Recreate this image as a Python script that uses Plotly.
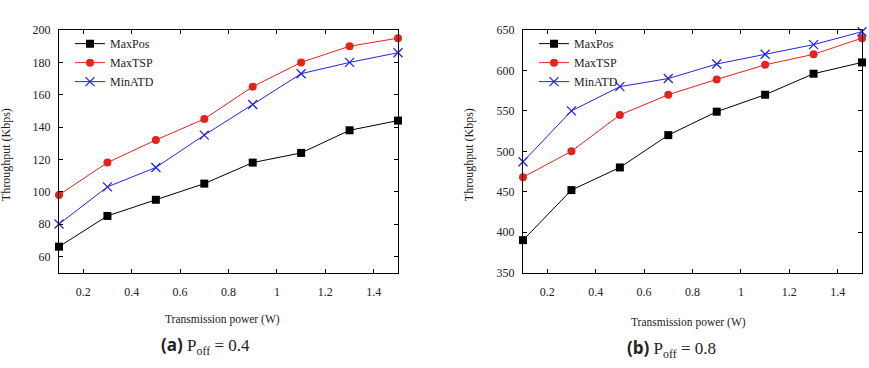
import plotly.graph_objects as go

W, H = 869, 368

power = [0.1, 0.3, 0.5, 0.7, 0.9, 1.1, 1.3, 1.5]
x_tickvals = [0.2, 0.4, 0.6, 0.8, 1.0, 1.2, 1.4]
x_ticktext = ["0.2", "0.4", "0.6", "0.8", "1", "1.2", "1.4"]

# (a) P_off = 0.4
a_maxpos = [66, 85, 95, 105, 118, 124, 138, 144]
a_maxtsp = [98, 118, 132, 145, 165, 180, 190, 195]
a_minatd = [80, 103, 115, 135, 154, 173, 180, 186]
a_yticks = [60, 80, 100, 120, 140, 160, 180, 200]

# (b) P_off = 0.8
b_maxpos = [390, 452, 480, 520, 549, 570, 596, 610]
b_maxtsp = [468, 500, 545, 570, 589, 607, 620, 640]
b_minatd = [487, 550, 580, 590, 608, 620, 632, 648]
b_yticks = [350, 400, 450, 500, 550, 600, 650]

series_names = ["MaxPos", "MaxTSP", "MinATD"]

BLACK = "#000000"
RED = "#e3231d"
BLUE = "#2424e6"
SERIF = "Liberation Serif, Times New Roman, serif"
TXT = "#222222"

styles = [
    dict(color=BLACK, symbol="square", size=8, mline=dict(width=0)),
    dict(color=RED, symbol="circle", size=8, mline=dict(width=0)),
    dict(color=BLUE, symbol="x-thin", size=9, mline=dict(width=1.3, color=BLUE)),
]

fig = go.Figure()

def add_panel(ys, xa, ya, legend):
    for name, y, st in zip(series_names, ys, styles):
        fig.add_trace(go.Scatter(
            x=power, y=y, name=name, mode="lines+markers",
            line=dict(color=st["color"], width=1),
            marker=dict(color=st["color"], symbol=st["symbol"], size=st["size"],
                        line=st["mline"]),
            xaxis=xa, yaxis=ya, legend=legend, cliponaxis=False,
        ))

add_panel([a_maxpos, a_maxtsp, a_minatd], "x", "y", "legend")
add_panel([b_maxpos, b_maxtsp, b_minatd], "x2", "y2", "legend2")

def px_x(p):
    return p / W

def px_y(p):
    return 1 - p / H

ydom = [px_y(276), px_y(24)]

common_axis = dict(
    showline=True, linecolor=BLACK, linewidth=1, mirror="ticks",
    ticks="inside", ticklen=4, tickwidth=1, tickcolor=BLACK,
    showgrid=False, zeroline=False,
    tickfont=dict(family=SERIF, size=12, color=TXT),
)

fig.update_layout(
    width=W, height=H,
    margin=dict(l=0, r=0, t=0, b=0),
    paper_bgcolor="white", plot_bgcolor="white",
    xaxis=dict(domain=[px_x(59), px_x(398)], range=[0.1, 1.5], anchor="y",
               tickvals=x_tickvals, ticktext=x_ticktext, ticklabelstandoff=8,
               **common_axis),
    yaxis=dict(domain=ydom, range=[50, 200], anchor="x",
               tickvals=a_yticks, ticklabelstandoff=5, **common_axis),
    xaxis2=dict(domain=[px_x(523), px_x(862)], range=[0.1, 1.5], anchor="y2",
                tickvals=x_tickvals, ticktext=x_ticktext, ticklabelstandoff=8,
                **common_axis),
    yaxis2=dict(domain=ydom, range=[350, 650], anchor="x2",
                tickvals=b_yticks, ticklabelstandoff=5, **common_axis),
    legend=dict(x=px_x(70), y=px_y(23), xanchor="left", yanchor="top",
                bgcolor="rgba(0,0,0,0)", font=dict(family=SERIF, size=12, color=TXT),
                tracegroupgap=0, itemwidth=30),
    legend2=dict(x=px_x(534), y=px_y(23), xanchor="left", yanchor="top",
                 bgcolor="rgba(0,0,0,0)", font=dict(family=SERIF, size=12, color=TXT),
                 tracegroupgap=0, itemwidth=30),
    showlegend=True,
)

def ann(text, x, y, size, angle=0, family=SERIF):
    fig.add_annotation(text=text, x=px_x(x), y=px_y(y), xref="paper", yref="paper",
                       xanchor="center", yanchor="middle", showarrow=False,
                       textangle=angle, font=dict(family=family, size=size, color=TXT))

ann("Throughput (Kbps)", 6, 154, 12, angle=-90)
ann("Throughput (Kbps)", 469, 154, 12, angle=-90)
ann("Transmission power (W)", 222, 325, 11.5)
ann("Transmission power (W)", 688, 328, 11.5)

cap_a = "<span style='font-family:Open Sans'><b>(a)</b></span> P<sub>off</sub> = 0.4"
cap_b = "<span style='font-family:Open Sans'><b>(b)</b></span> P<sub>off</sub> = 0.8"
ann(cap_a, 205, 352, 17)
ann(cap_b, 671, 355, 17)

fig.write_html("out.html")
